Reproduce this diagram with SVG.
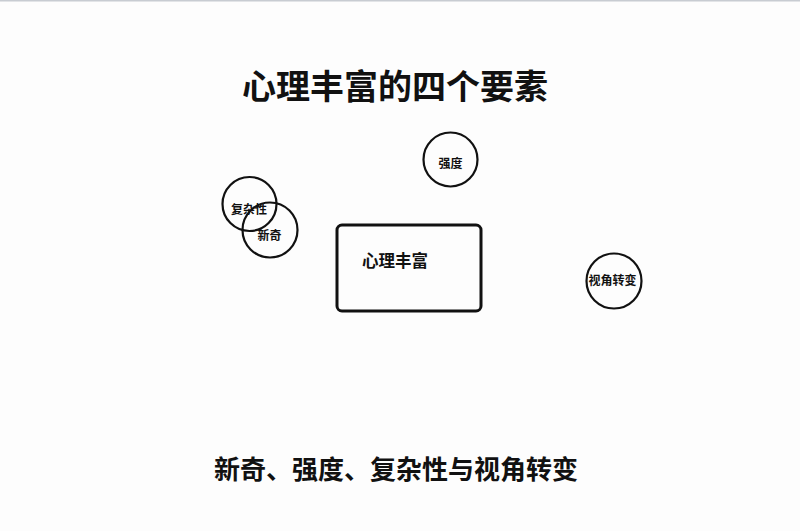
<svg xmlns="http://www.w3.org/2000/svg" width="800" height="531" viewBox="0 0 800 531">
<style>
text{font-family:"Noto Sans CJK SC","Noto Sans",sans-serif;fill:#111;text-anchor:middle;dominant-baseline:central}
.c{fill:none;stroke:#111;stroke-width:2.2}
.t{font-size:12px;font-weight:700}
</style>
<rect x="0" y="0" width="800" height="531" fill="#fdfdfd"/>
<rect x="0" y="0" width="800" height="1.5" fill="#c8ccd2"/>
<text x="395" y="84" font-size="34" font-weight="700">心理丰富的四个要素</text>
<g id="connectors"></g>
<g id="node-core">
<rect x="337" y="225" width="144" height="86" rx="5" fill="none" stroke="#111" stroke-width="3"/>
<text x="395" y="260" font-size="16.5" font-weight="700">心理丰富</text>
</g>
<g id="node-intensity">
<circle class="c" cx="450.5" cy="159.5" r="27"/>
<text class="t" x="450.5" y="162">强度</text>
</g>
<g id="node-complexity">
<circle class="c" cx="249.5" cy="204" r="27"/>
<text class="t" x="249" y="208" font-size="13">复杂性</text>
</g>
<g id="node-novelty">
<circle class="c" cx="270" cy="230" r="27.5"/>
<text class="t" x="269.5" y="234">新奇</text>
</g>
<g id="node-perspective">
<circle class="c" cx="614" cy="281" r="27.5"/>
<text class="t" x="612.5" y="279" font-size="13">视角转变</text>
</g>
<text x="396" y="467" font-size="26" font-weight="700">新奇、强度、复杂性与视角转变</text>
</svg>
